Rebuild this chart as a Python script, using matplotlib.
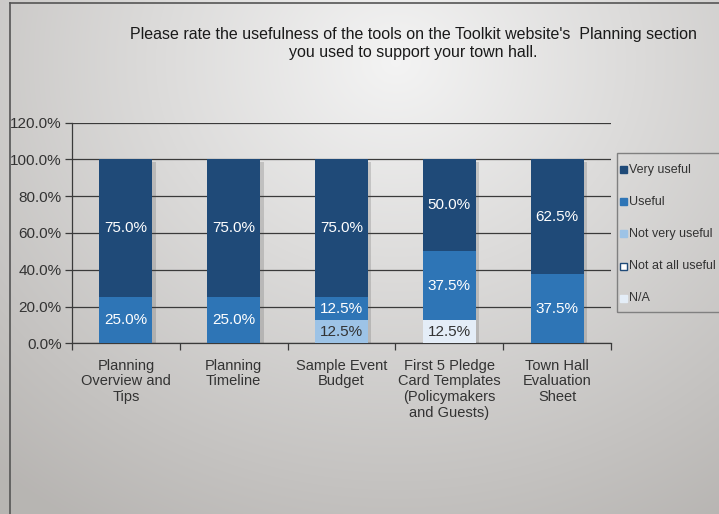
import numpy as np
import matplotlib
matplotlib.use("Agg")
import matplotlib.pyplot as plt
from matplotlib.patches import Rectangle
from matplotlib.lines import Line2D
from matplotlib import patheffects as pe

plt.rcParams['font.family'] = ['Liberation Sans', 'DejaVu Sans']

categories = ["Planning\nOverview and\nTips", "Planning\nTimeline", "Sample Event\nBudget",
              "First 5 Pledge\nCard Templates\n(Policymakers\nand Guests)", "Town Hall\nEvaluation\nSheet"]
series_names = ["Very useful", "Useful", "Not very useful", "Not at all useful", "N/A"]
very_useful = [75.0, 75.0, 75.0, 50.0, 62.5]
useful = [25.0, 25.0, 12.5, 37.5, 37.5]
not_very_useful = [0.0, 0.0, 12.5, 0.0, 0.0]
not_at_all_useful = [0.0, 0.0, 0.0, 0.0, 0.0]
not_applicable = [0.0, 0.0, 0.0, 12.5, 0.0]
y_ticks = [0, 20, 40, 60, 80, 100, 120]
title = "Please rate the usefulness of the tools on the Toolkit website's  Planning section\nyou used to support your town hall."

colors = {"Very useful": "#1f4a78", "Useful": "#2e75b6", "Not very useful": "#9dc3e6",
          "Not at all useful": "#ffffff", "N/A": "#e4edf7"}
label_colors = {"Very useful": "white", "Useful": "white", "Not very useful": "#333333",
                "Not at all useful": "#333333", "N/A": "#333333"}

W, H = 719, 514
fig = plt.figure(figsize=(W / 100, H / 100), dpi=100)

# radial grey background
bg = fig.add_axes([0, 0, 1, 1], zorder=-10)
yy, xx = np.mgrid[0:H, 0:W]
cx, cy = 0.55 * W, 0.12 * H
r = np.sqrt(((xx - cx) / (0.85 * W)) ** 2 + ((yy - cy) / (1.05 * H)) ** 2)
r = np.clip(r, 0, 1)
c0 = np.array([0.955, 0.955, 0.955])
c1 = np.array([0.72, 0.71, 0.70])
img = c0[None, None, :] * (1 - r[..., None]) + c1[None, None, :] * r[..., None]
bg.imshow(img, aspect="auto", extent=[0, 1, 0, 1], origin="upper")
bg.set_axis_off()

# slide frame
fig.add_artist(Line2D([10 / W, 10 / W], [0, 1 - 3 / H], transform=fig.transFigure, color="#555555", lw=1.2))
fig.add_artist(Line2D([10 / W, 1], [1 - 3 / H, 1 - 3 / H], transform=fig.transFigure, color="#555555", lw=1.2))

ax = fig.add_axes([72 / W, 1 - 343.3 / H, (611 - 72) / W, (343.3 - 122.5) / H])
ax.patch.set_alpha(0)

x = np.arange(len(categories))
stack = [("N/A", not_applicable), ("Not at all useful", not_at_all_useful),
         ("Not very useful", not_very_useful), ("Useful", useful), ("Very useful", very_useful)]
totals = np.sum([np.array(v) for _, v in stack], axis=0)

# soft shadow behind each whole column
shadow = ax.bar(x, totals, width=0.49, color="#888888", zorder=2, linewidth=0)
for b in shadow:
    b.set_path_effects([pe.SimplePatchShadow(offset=(2.5, -2), alpha=0.2, shadow_rgbFace="#444444")])

bottom = np.zeros(len(categories))
for name, vals in stack:
    vals = np.array(vals)
    ax.bar(x, vals, bottom=bottom, width=0.49, color=colors[name], zorder=3, linewidth=0)
    for xi, v, b0 in zip(x, vals, bottom):
        if v > 0:
            ax.text(xi, b0 + v / 2, f"{v:.1f}%", ha="center", va="center", fontsize=11,
                    color=label_colors[name], zorder=5)
    bottom += vals

ax.set_ylim(0, 120)
ax.set_xlim(-0.5, len(categories) - 0.5)
ax.set_yticks(y_ticks)
ax.set_yticklabels([f"{t:.1f}%" for t in y_ticks], fontsize=11, color="#333333")
ax.yaxis.grid(True, color="#3a3a3a", lw=0.9, zorder=1)
ax.tick_params(axis="y", length=5, width=0.9, color="#3a3a3a", pad=2.5)
ax.set_xticks(x)
ax.set_xticklabels(categories, fontsize=10.5, color="#333333", linespacing=1.17)
ax.tick_params(axis="x", which="major", length=0, pad=11)
ax.set_xticks(np.arange(-0.5, len(categories)), minor=True)
ax.tick_params(axis="x", which="minor", length=5, width=0.9, color="#3a3a3a")
for s in ["top", "right"]:
    ax.spines[s].set_visible(False)
for s in ["left", "bottom"]:
    ax.spines[s].set_color("#3a3a3a")
    ax.spines[s].set_linewidth(0.9)

fig.text(413 / W, 1 - 43.5 / H, title, ha="center", va="center", fontsize=11.5, color="#1a1a1a",
         linespacing=1.3)

# legend
fig.add_artist(Rectangle((617 / W, 1 - 312 / H), 0.2, (312 - 153) / H, transform=fig.transFigure,
                         fill=False, edgecolor="#808080", lw=1))
for i, name in enumerate(series_names):
    yc = 1 - (170 + 32 * i) / H
    fig.add_artist(Rectangle((620 / W, yc - 3.5 / H), 7 / W, 7 / H, transform=fig.transFigure,
                             facecolor=colors[name], edgecolor="#1f4a78" if name == "Not at all useful" else colors[name],
                             lw=1))
    fig.text(629 / W, yc, name, ha="left", va="center", fontsize=9, color="#333333")

fig.savefig("out.png", dpi=100)
